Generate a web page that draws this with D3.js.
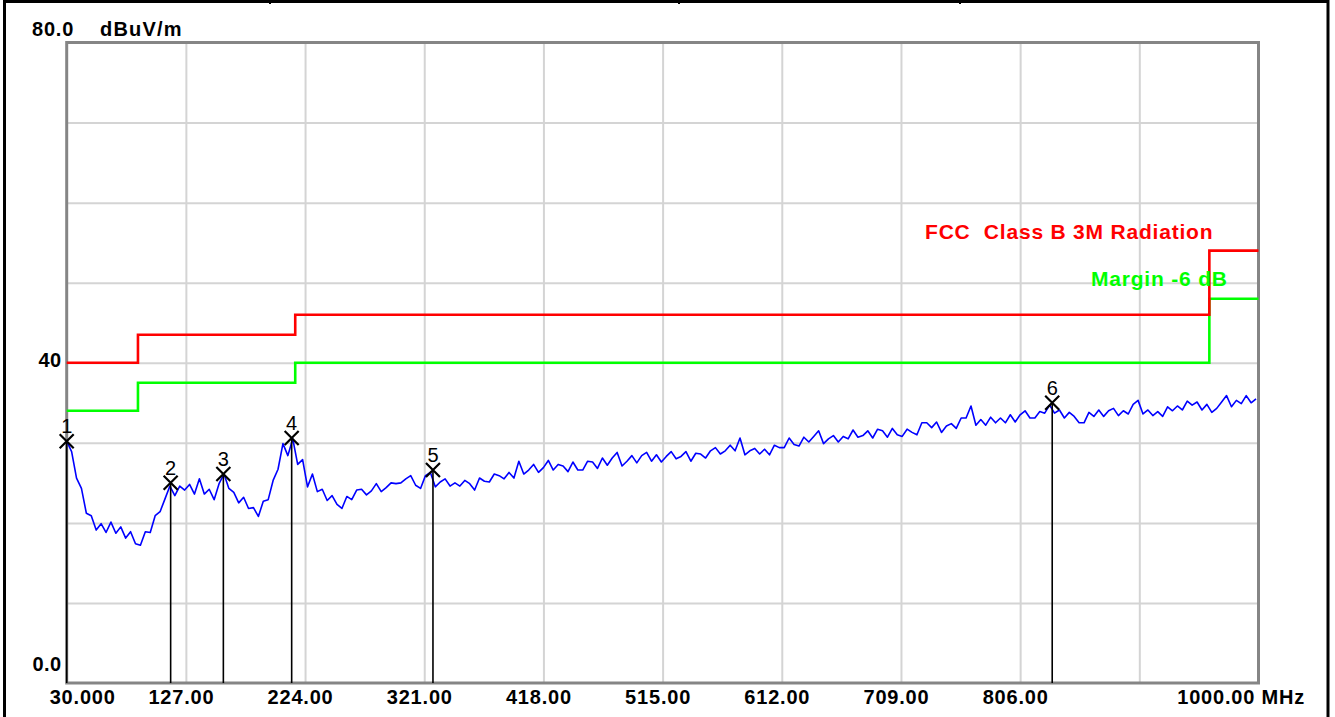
<!DOCTYPE html>
<html>
<head>
<meta charset="utf-8">
<script src="https://cdn.jsdelivr.net/npm/d3@7"></script>
<style>
body { margin: 0; background: #fff; }
svg { display: block; font-family: "Liberation Sans", Arial, sans-serif; }
</style>
</head>
<body>
<svg id="chart" width="1335" height="717"></svg>
<script>
// axis ticks and labels
var xTicks = [30, 127, 224, 321, 418, 515, 612, 709, 806, 903, 1000];
var xTickLabels = ["30.000", "127.00", "224.00", "321.00", "418.00", "515.00", "612.00", "709.00", "806.00", "", "1000.00 MHz"];
var yGrid = [10, 20, 30, 40, 50, 60, 70];
var yLabelValues = [0, 40];
var yLabelText = ["0.0", "40"];
var yTopLabel = "80.0";
var yUnit = "dBuV/m";

// FCC class B 3m limit and the -6 dB margin line (MHz / dBuV/m)
var limitFreqs = [30, 88, 216, 960, 1000];
var limitLevels = [40, 43.5, 46, 54, 54];
var marginLevels = [34, 37.5, 40, 48, 48];
var limitName = "FCC  Class B 3M Radiation";
var marginName = "Margin -6 dB";

// measured trace, one reading every 4 MHz starting at 30 MHz
var traceStart = 30, traceStep = 4;
var traceDb = [
  30.2, 28.9, 25.6, 24.3, 21.2, 20.9, 19.1, 19.9, 18.8, 20.1,
  18.7, 19.5, 18.1, 18.9, 17.4, 17.2, 18.9, 18.8, 20.9, 21.4,
  23.0, 24.6, 23.4, 24.6, 24.1, 24.8, 23.6, 25.5, 23.6, 24.2,
  22.9, 24.9, 26.1, 24.3, 23.8, 22.5, 23.2, 21.8, 21.9, 20.8,
  22.7, 22.9, 25.3, 26.7, 29.9, 28.4, 30.5, 27.3, 27.9, 24.5,
  26.1, 23.9, 24.2, 22.8, 23.4, 22.3, 21.8, 23.3, 22.9, 24.1,
  24.2, 23.5, 24.0, 24.9, 23.9, 24.4, 25.0, 24.9, 25.0, 25.5,
  25.9, 24.7, 24.3, 25.9, 26.3, 24.5, 25.1, 25.5, 24.6, 25.0,
  24.6, 25.3, 24.9, 24.1, 25.6, 25.2, 25.1, 26.1, 25.9, 25.5,
  26.3, 25.6, 27.7, 26.1, 26.6, 27.3, 26.3, 26.9, 27.8, 26.6,
  27.3, 27.1, 26.4, 27.6, 26.6, 26.6, 27.7, 27.6, 26.8, 28.1,
  27.2, 28.1, 28.8, 27.1, 27.7, 28.4, 27.5, 28.4, 28.8, 27.7,
  28.5, 27.6, 28.3, 28.9, 28.0, 28.3, 28.9, 27.7, 28.7, 28.6,
  28.1, 29.0, 29.4, 28.6, 29.0, 29.7, 29.0, 30.6, 28.5, 29.0,
  29.3, 28.6, 29.2, 28.5, 29.7, 29.4, 29.4, 30.6, 29.8, 29.6,
  30.7, 30.1, 30.8, 31.5, 29.9, 30.5, 30.9, 30.1, 30.8, 30.5,
  31.6, 30.7, 30.9, 31.5, 30.6, 31.7, 31.5, 30.7, 31.8, 31.0,
  30.8, 31.7, 31.3, 31.0, 32.5, 32.5, 31.9, 32.6, 31.3, 32.1,
  32.4, 31.8, 33.1, 33.1, 34.6, 32.2, 32.9, 32.2, 33.2, 32.5,
  33.1, 32.5, 33.5, 32.6, 33.5, 34.0, 33.1, 33.1, 33.9, 33.7,
  34.7, 33.7, 34.1, 33.1, 33.8, 33.3, 32.5, 32.5, 33.8, 33.3,
  34.1, 33.3, 34.0, 34.3, 33.4, 34.0, 33.6, 34.8, 35.3, 33.6,
  34.1, 33.4, 33.9, 33.3, 34.5, 34.0, 34.6, 34.1, 35.2, 34.7,
  35.1, 34.1, 34.8, 33.8, 34.3, 35.1, 35.9, 34.5, 35.3, 34.9,
  35.9, 35.0, 35.5
];

// peak markers
var markerIds = ["1", "2", "3", "4", "5", "6"];
var markerFreqs = [30, 114.6, 157.5, 213.1, 328.1, 832.1];
var markerDb = [30.2, 25.0, 26.1, 30.6, 26.6, 35.0];

var svg = d3.select("#chart");
var plotL = 66.7, plotR = 1258.5, plotT = 42.5, plotB = 683;

var xScale = d3.scaleLinear().domain([30, 1000]).range([plotL, plotR]);
var yScale = d3.scaleLinear().domain([0, 80]).range([plotB, plotT]);

// outer page frame
var frame = svg.append("g").attr("stroke", "#000").attr("stroke-width", 3).attr("fill", "none");
frame.append("path").attr("d", "M4.5,717V1.5H1328V717");
[270, 679, 960].forEach(function(x) {
    frame.append("line").attr("x1", x).attr("x2", x).attr("y1", 0).attr("y2", 4).attr("stroke-width", 2);
});

// grid
var grid = svg.append("g");
grid.append("g")
    .attr("transform", "translate(0," + plotB + ")")
    .call(d3.axisBottom(xScale).tickValues(xTicks.slice(1, -1)).tickSize(-(plotB - plotT)).tickFormat(""));
grid.append("g")
    .attr("transform", "translate(" + plotL + ",0)")
    .call(d3.axisLeft(yScale).tickValues(yGrid).tickSize(-(plotR - plotL)).tickFormat(""));
grid.selectAll(".domain").remove();
grid.selectAll("line").attr("stroke", "#d4d4d4").attr("stroke-width", 2);

// plot border
svg.append("rect")
    .attr("x", plotL).attr("y", plotT)
    .attr("width", plotR - plotL).attr("height", plotB - plotT)
    .attr("fill", "none").attr("stroke", "#858585").attr("stroke-width", 3);

// limit lines
function stepLine(levels) {
    return d3.line()
        .curve(d3.curveStepAfter)
        .x(function(d, i) { return xScale(limitFreqs[i]); })
        .y(function(d) { return yScale(d); })(levels);
}
svg.append("path").attr("d", stepLine(marginLevels))
    .attr("fill", "none").attr("stroke", "#00ff00").attr("stroke-width", 2.6);
svg.append("path").attr("d", stepLine(limitLevels))
    .attr("fill", "none").attr("stroke", "#ff0000").attr("stroke-width", 2.6);

// measured trace
var trace = d3.line()
    .x(function(d, i) { return xScale(traceStart + i * traceStep); })
    .y(function(d) { return yScale(d); });
svg.append("path").attr("d", trace(traceDb))
    .attr("fill", "none").attr("stroke", "#0000ff").attr("stroke-width", 1.6)
    .attr("stroke-linejoin", "round");

// markers: drop line, cross and number
var mk = svg.selectAll(".marker").data(markerIds).enter().append("g").attr("class", "marker");
mk.append("line")
    .attr("x1", function(d, i) { return xScale(markerFreqs[i]); })
    .attr("x2", function(d, i) { return xScale(markerFreqs[i]); })
    .attr("y1", function(d, i) { return yScale(markerDb[i]); })
    .attr("y2", plotB)
    .attr("stroke", "#000").attr("stroke-width", 1.6);
mk.append("path")
    .attr("d", function(d, i) {
        var cx = xScale(markerFreqs[i]), cy = yScale(markerDb[i]), s = 7;
        return "M" + (cx - s) + "," + (cy - s) + "L" + (cx + s) + "," + (cy + s) +
               "M" + (cx + s) + "," + (cy - s) + "L" + (cx - s) + "," + (cy + s);
    })
    .attr("stroke", "#000").attr("stroke-width", 2.2).attr("fill", "none");
mk.append("text")
    .attr("x", function(d, i) { return xScale(markerFreqs[i]); })
    .attr("y", function(d, i) { return yScale(markerDb[i]) - 8; })
    .attr("text-anchor", "middle")
    .style("font", "20px 'Liberation Sans', Arial, sans-serif")
    .text(function(d) { return d; });

// x tick labels
var xAxis = svg.append("g")
    .attr("transform", "translate(0," + plotB + ")")
    .call(d3.axisBottom(xScale).tickValues(xTicks).tickSize(0)
        .tickFormat(function(d, i) { return xTickLabels[i]; }));
xAxis.select(".domain").remove();
xAxis.selectAll("text")
    .attr("y", 21).attr("dy", 0)
    .attr("fill", "#000")
    .style("font", "bold 20px 'Liberation Sans', Arial, sans-serif")
    .style("letter-spacing", "0.8px")
    .attr("text-anchor", function(d, i) { return i == 0 ? "start" : (i == xTicks.length - 1 ? "end" : "middle"); })
    .attr("dx", function(d, i) { return i == 0 ? -17.5 : (i == xTicks.length - 1 ? 46 : -5); });

// y tick labels
var yAxis = svg.append("g")
    .attr("transform", "translate(" + plotL + ",0)")
    .call(d3.axisLeft(yScale).tickValues(yLabelValues).tickSize(0)
        .tickFormat(function(d, i) { return yLabelText[i]; }));
yAxis.select(".domain").remove();
yAxis.selectAll("text")
    .attr("x", -5).attr("dy", 0)
    .attr("fill", "#000")
    .attr("transform", function(d, i) { return "translate(0," + (i == 0 ? -13 : 3.5) + ")"; })
    .style("font", "bold 20px 'Liberation Sans', Arial, sans-serif")
    .style("letter-spacing", "0.5px");

svg.append("text").attr("x", 32).attr("y", 36)
    .style("font", "bold 20px 'Liberation Sans', Arial, sans-serif")
    .style("letter-spacing", "0.8px")
    .text(yTopLabel);
svg.append("text").attr("x", 100).attr("y", 36)
    .style("font", "bold 20px 'Liberation Sans', Arial, sans-serif")
    .style("letter-spacing", "1.2px")
    .text(yUnit);

// legend labels
svg.append("text").attr("x", 925).attr("y", 239)
    .attr("fill", "#ff0000")
    .style("white-space", "pre")
    .style("font", "bold 21px 'Liberation Sans', Arial, sans-serif")
    .style("letter-spacing", "0.8px")
    .text(limitName);
svg.append("text").attr("x", 1091).attr("y", 286)
    .attr("fill", "#00ff00")
    .style("font", "bold 21px 'Liberation Sans', Arial, sans-serif")
    .style("letter-spacing", "0.8px")
    .text(marginName);
</script>
</body>
</html>
